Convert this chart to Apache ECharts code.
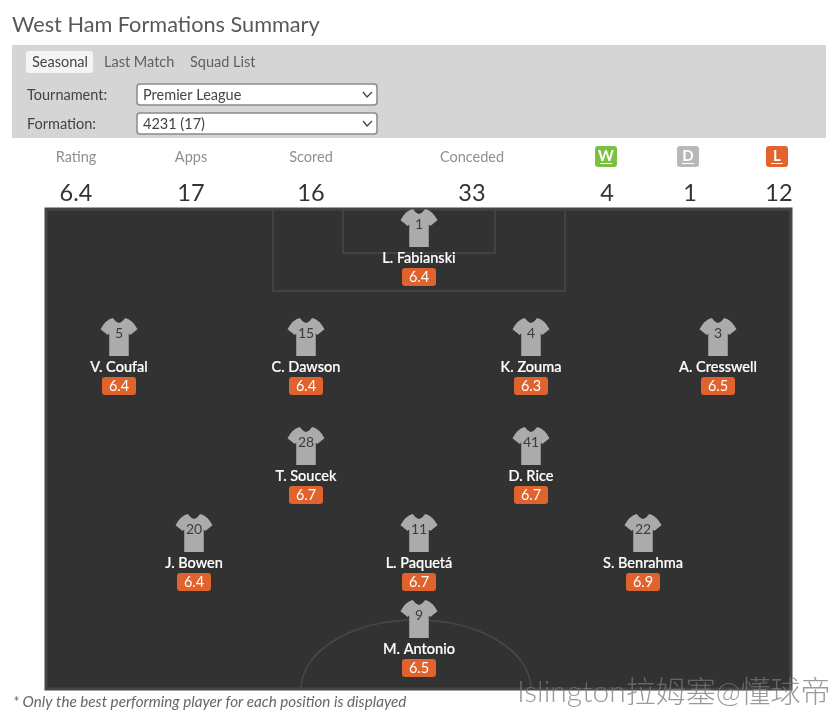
<!DOCTYPE html>
<html><head><meta charset="utf-8">
<style>html,body{margin:0;padding:0;background:#fff}#c{width:839px;height:720px}</style>
<script src="https://cdn.jsdelivr.net/npm/echarts@6/dist/echarts.min.js"></script>
</head><body><div id="c"></div>
<script>
const playerNames = ['L. Fabianski','V. Coufal','C. Dawson','K. Zouma','A. Cresswell','T. Soucek','D. Rice','J. Bowen','L. Paquetá','S. Benrahma','M. Antonio'];
const shirtNumbers = [1,5,15,4,3,28,41,20,11,22,9];
const ratings = ['6.4','6.4','6.4','6.3','6.5','6.7','6.7','6.4','6.7','6.9','6.5'];
const pitchX = [374,74,261,486,673,261,486,149,374,598,374];
const pitchY = [20,129,129,129,129,238,238,325,325,325,411];
const statLabels = ['Rating','Apps','Scored','Conceded'];
const statLabelX = [76,191,311,472];
const statValues = ['6.4','17','16','33','4','1','12'];
const statValueX = [76,191,311,472,607,690,779];
const resultLabels = ['W','D','L'];
const resultX = [606,688,777];
const resultColors = ['#7cc043','#b8b8b8','#e4622c'];
const tabs = ['Seasonal','Last Match','Squad List'];
const tabX = [32,104,190];

const FONT='Lato';
const shirt='path://M12 0 L14.5 3 Q18 6.5 21.5 3 L24 0 Q31 1.5 36 11 L29 16.5 L27.5 15 L27.5 37 L8.5 37 L8.5 15 L7 16.5 L0 11 Q5 1.5 12 0 Z';
const points = pitchX.map((x,i)=>[x,pitchY[i]]);
const LINE='#484848';
const t=(x,y,text,size,fill,extra)=>({type:'text',x,y,z:10,style:Object.assign({text,fontFamily:FONT,fontSize:size,fill,textVerticalAlign:'middle',textAlign:'left'},extra||{})});
const rect=(x,y,w,h,fill,r,stroke)=>({type:'rect',z:1,shape:{x,y,width:w,height:h,r:r||0},style:{fill,stroke:stroke||null,lineWidth:stroke?1.5:0}});
const line=(pts)=>({type:'polyline',z:3,shape:{points:pts},style:{fill:null,stroke:LINE,lineWidth:1.6}});
const k=0.5523, cx=416, by=689, rx=115, ry=69;
const graphics=[
  t(12,25,'West Ham Formations Summary',21.7,'#585858'),
  rect(12,45,814,93,'#d5d5d5'),
  rect(26,51,67,22,'#f4f4f4',3),
  ...tabs.map((s,i)=>t(tabX[i],62,s,14.5,i===0?'#444':'#5f5f5f')),
  t(27,95,'Tournament:',14.5,'#444'),
  t(27,124,'Formation:',14.5,'#444'),
  rect(137,84,240,21,'#fff',3,'#8a8a8a'),
  rect(137,113,240,21,'#fff',3,'#8a8a8a'),
  t(143,95,'Premier League',14.5,'#444'),
  t(143,124,'4231 (17)',14.5,'#444'),
  {type:'polyline',z:10,shape:{points:[[363,92],[367,97],[372,92]]},style:{fill:null,stroke:'#444',lineWidth:1.3}},
  {type:'polyline',z:10,shape:{points:[[363,121],[367,126],[372,121]]},style:{fill:null,stroke:'#444',lineWidth:1.3}},
  ...statLabels.map((s,i)=>t(statLabelX[i],157,s,14.5,'#8f8f8f',{textAlign:'center'})),
  ...statValues.map((s,i)=>t(statValueX[i],193,s,23.5,'#333',{textAlign:'center'})),
  ...resultLabels.flatMap((s,i)=>[
    rect(resultX[i]-11,146,22,21,resultColors[i],3),
    t(resultX[i],156,s,15,'#fff',{textAlign:'center',fontWeight:'bold'}),
    {type:'rect',z:10,shape:{x:resultX[i]-6,y:163,width:12,height:1},style:{fill:'#fff'}}
  ]),
  {type:'rect',z:2,shape:{x:46,y:209,width:745,height:480},style:{fill:'#323232',stroke:'#454545',lineWidth:3}},
  line([[273,209],[273,291],[565,291],[565,209]]),
  line([[343,209],[343,253],[495,253],[495,209]]),
  {type:'bezierCurve',z:3,shape:{x1:cx-rx,y1:by,cpx1:cx-rx,cpy1:by-ry*k,cpx2:cx-rx*k,cpy2:by-ry,x2:cx,y2:by-ry},style:{fill:null,stroke:LINE,lineWidth:1.6}},
  {type:'bezierCurve',z:3,shape:{x1:cx,y1:by-ry,cpx1:cx+rx*k,cpy1:by-ry,cpx2:cx+rx,cpy2:by-ry*k,x2:cx+rx,y2:by},style:{fill:null,stroke:LINE,lineWidth:1.6}},
  t(13,702,'* Only the best performing player for each position is displayed',15.2,'#666',{fontStyle:'italic'}),
  t(517,692,'Islington拉姆塞@懂球帝',30,'rgba(120,120,120,0.75)',{fontFamily:'Lato, "Noto Sans CJK SC"',fontWeight:300})
];
const hidden={itemStyle:{color:'rgba(0,0,0,0)',opacity:1},symbolSize:1,silent:true};
const option={
  animation:false,
  graphic:{elements:graphics},
  grid:{left:45,top:208,width:747,height:482,show:false},
  xAxis:{type:'value',min:0,max:747,show:false},
  yAxis:{type:'value',min:0,max:482,inverse:true,show:false},
  series:[
    {type:'scatter',z:5,data:points,symbol:shirt,symbolSize:[37,38],itemStyle:{color:'#ababab',opacity:1},
     label:{show:true,position:'inside',offset:[0,-4],fontFamily:FONT,fontSize:14,color:'#3c3c3c',formatter:p=>shirtNumbers[p.dataIndex]}},
    Object.assign({type:'scatter',z:6,data:points,
     label:{show:true,position:'inside',offset:[0,30.5],fontFamily:FONT,fontSize:14.5,fontWeight:500,color:'#fff',textBorderColor:'#fff',textBorderWidth:0.2,formatter:p=>playerNames[p.dataIndex]}},hidden),
    Object.assign({type:'scatter',z:6,data:points,
     label:{show:true,position:'inside',offset:[0,49],fontFamily:FONT,fontSize:14.5,color:'#fff',backgroundColor:'#e0622c',borderRadius:3,width:34,height:18,lineHeight:18,align:'center',verticalAlign:'middle',formatter:p=>ratings[p.dataIndex]}},hidden)
  ]
};
echarts.init(document.getElementById('c'),null,{renderer:'canvas'}).setOption(option);
</script></body></html>
